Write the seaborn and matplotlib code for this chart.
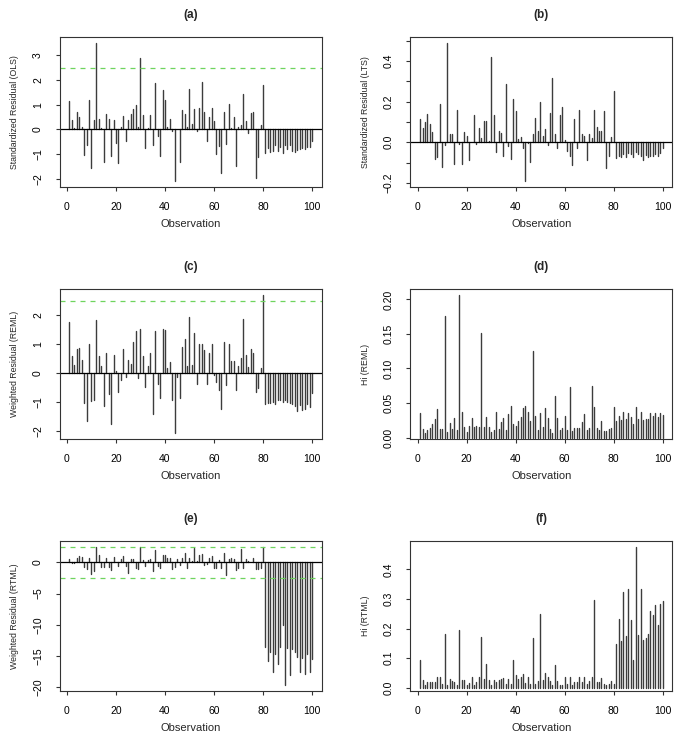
import matplotlib
matplotlib.use("Agg")
import pandas as pd
import matplotlib.pyplot as plt
import seaborn as sns

# Observation index 1..100
obs = list(range(1, 101))

# (a) standardized residuals, OLS
ols = [1.14, 0.38, 0.05, 0.71, 0.48, 0.08, -1.03, -0.63, 1.17, -1.57,
       0.38, 3.51, 0.40, 0.06, -1.33, 0.62, 0.43, -1.10, 0.38, -0.56,
       -1.37, 0.08, 0.54, -0.47, 0.38, 0.62, 0.81, 0.98, 0.08, 2.89,
       0.58, -0.77, 0.05, 0.56, -0.63, 1.88, -0.27, -1.10, 1.59, 1.18,
       0.08, 0.43, -0.05, -2.11, 0.03, -1.34, 0.78, 0.60, 0.10, 1.65,
       0.20, 0.82, -0.07, 0.86, 1.90, 0.69, -0.47, 0.51, 0.85, 0.34,
       -1.00, -0.67, -1.77, 0.69, -0.59, 1.02, 0.04, 0.48, -1.48, 0.08,
       0.16, 1.42, 0.35, -0.16, 0.65, 0.70, -1.96, -1.14, 0.17, 1.81,
       -0.97, -0.77, -0.93, -0.86, -0.63, -0.86, -0.70, -0.97, -0.63, -0.79,
       -0.63, -0.86, -0.93, -0.83, -0.79, -0.74, -0.79, -0.70, -0.70, -0.47]

# (b) standardized residuals, LTS
lts = [0.113, 0.072, 0.098, 0.141, 0.090, 0.049, -0.084, -0.075, 0.189, -0.120,
       -0.013, 0.490, 0.038, 0.039, -0.108, 0.157, -0.008, -0.108, 0.049, 0.031,
       -0.087, 0.003, 0.136, -0.010, 0.069, 0.020, 0.105, 0.102, 0.005, 0.418,
       0.133, -0.048, 0.054, 0.044, -0.070, 0.287, -0.021, -0.084, 0.213, 0.154,
       0.016, 0.025, -0.030, -0.193, -0.005, -0.098, 0.041, 0.117, 0.054, 0.197,
       0.031, 0.064, -0.013, 0.143, 0.315, 0.041, -0.030, 0.136, 0.172, 0.011,
       -0.041, -0.067, -0.110, 0.113, -0.030, 0.157, 0.041, 0.030, -0.087, 0.041,
       0.023, 0.157, 0.074, 0.057, 0.054, 0.154, -0.128, -0.067, 0.028, 0.250,
       -0.079, -0.070, -0.075, -0.057, -0.075, -0.054, -0.057, -0.075, -0.046, -0.057,
       -0.070, -0.087, -0.062, -0.075, -0.070, -0.067, -0.057, -0.067, -0.054, -0.030]

# (c) weighted residuals, REML
reml = [1.76, 0.59, 0.29, 0.83, 0.86, 0.48, -1.01, -1.63, 1.00, -0.95,
        -0.90, 1.84, 0.60, 0.25, -1.14, 0.72, -0.70, -1.76, 0.63, 0.09,
        -0.64, -0.23, 0.83, -0.13, 0.47, 0.32, 1.09, 1.46, -0.17, 1.53,
        0.59, -0.46, 0.26, 0.71, -1.41, 1.48, -0.37, -0.86, 1.53, 1.49,
        0.20, 0.38, -0.92, -2.07, -0.11, -0.86, 0.90, 1.17, 0.25, 1.95,
        0.29, 1.40, -0.37, 1.03, 1.03, 0.80, -0.37, 0.69, 1.00, -0.06,
        -0.31, -0.57, -1.23, 1.09, -0.40, 1.03, 0.43, 0.43, -0.57, 0.26,
        0.52, 1.86, 0.63, 0.21, 0.84, 0.69, -0.63, -0.49, 0.17, 2.72,
        -1.07, -1.03, -1.03, -0.98, -1.06, -0.90, -0.92, -0.98, -0.90, -0.98,
        -1.03, -1.06, -1.11, -1.30, -1.09, -1.26, -1.23, -1.06, -1.15, -0.69]

# (d) Hi, REML
hi_reml = [0.0356, 0.0125, 0.006, 0.011, 0.0135, 0.019, 0.027, 0.042, 0.012, 0.012,
           0.176, 0.008, 0.0216, 0.0125, 0.029, 0.0106, 0.207, 0.037, 0.016, 0.0087,
           0.017, 0.029, 0.016, 0.017, 0.016, 0.152, 0.016, 0.030, 0.016, 0.0077,
           0.0106, 0.0375, 0.012, 0.023, 0.028, 0.011, 0.034, 0.046, 0.019, 0.017,
           0.024, 0.030, 0.043, 0.046, 0.0375, 0.024, 0.126, 0.031, 0.011, 0.036,
           0.015, 0.043, 0.029, 0.012, 0.006, 0.060, 0.029, 0.011, 0.0135, 0.031,
           0.011, 0.0736, 0.0096, 0.0144, 0.0135, 0.0135, 0.022, 0.0346, 0.011, 0.0135,
           0.075, 0.0447, 0.0135, 0.011, 0.024, 0.0096, 0.0096, 0.012, 0.0135, 0.044,
           0.024, 0.031, 0.0255, 0.0365, 0.027, 0.035, 0.030, 0.019, 0.0447, 0.027,
           0.0375, 0.0255, 0.027, 0.027, 0.035, 0.031, 0.036, 0.030, 0.035, 0.0327]

# (e) weighted residuals, RTML
rtml = [0.53, -0.10, -0.10, 0.75, 1.07, 0.86, -0.75, -1.12, 0.64, -1.93,
        -1.40, 2.51, 1.18, -0.70, -0.70, 0.75, -0.70, -1.23, 0.86, 0.10,
        -0.53, 0.53, 0.96, -0.53, -1.66, 0.53, 0.53, -0.96, -1.12, 2.41,
        0.32, -0.53, 0.43, 0.48, -1.40, 1.98, -0.53, -0.96, 1.18, 1.18,
        0.75, 0.75, -1.07, -0.70, 0.48, -0.43, 0.75, 1.55, -0.96, 0.64,
        0.20, 2.25, 0.20, 1.18, 1.34, -0.43, -0.20, 0.75, 1.07, -0.96,
        -0.86, 0.32, -0.96, 1.55, -2.03, 0.48, 0.75, 0.53, -1.28, -0.96,
        2.09, -0.96, 0.53, 0.20, 0.05, 0.64, -1.12, -1.12, -0.86, 2.51,
        -13.5, -15.8, -14.3, -17.5, -14.6, -16.2, -13.5, -10.1, -19.7, -13.7,
        -18.1, -13.8, -14.4, -15.1, -17.5, -15.3, -17.8, -14.6, -17.5, -15.4]

# (f) Hi, RTML
hi_rtml = [0.095, 0.025, 0.011, 0.019, 0.021, 0.019, 0.021, 0.038, 0.038, 0.014,
           0.181, 0.008, 0.031, 0.023, 0.019, 0.008, 0.195, 0.028, 0.026, 0.011,
           0.016, 0.036, 0.010, 0.019, 0.037, 0.171, 0.031, 0.079, 0.025, 0.010,
           0.028, 0.019, 0.026, 0.031, 0.033, 0.012, 0.031, 0.012, 0.095, 0.043,
           0.031, 0.036, 0.045, 0.016, 0.035, 0.012, 0.169, 0.012, 0.024, 0.249,
           0.025, 0.050, 0.035, 0.023, 0.008, 0.076, 0.023, 0.010, 0.010, 0.036,
           0.012, 0.036, 0.010, 0.021, 0.021, 0.036, 0.019, 0.038, 0.012, 0.024,
           0.038, 0.295, 0.021, 0.019, 0.033, 0.012, 0.008, 0.012, 0.023, 0.012,
           0.149, 0.231, 0.158, 0.324, 0.175, 0.332, 0.228, 0.095, 0.477, 0.177,
           0.332, 0.160, 0.168, 0.181, 0.260, 0.245, 0.279, 0.211, 0.282, 0.293]

x_ticks = [0, 20, 40, 60, 80, 100]

panels = [
    ("(a)", "Standardized Residual (OLS)", ols, [-2, -1, 0, 1, 2, 3], None, [2.5]),
    ("(b)", "Standardized Residual (LTS)", lts,
     [-0.2, -0.1, 0.0, 0.1, 0.2, 0.3, 0.4, 0.5],
     ["-0.2", "", "0.0", "", "0.2", "", "0.4", ""], []),
    ("(c)", "Weighted Residual (REML)", reml, [-2, -1, 0, 1, 2], None, [2.5]),
    ("(d)", "Hi (REML)", hi_reml, [0.0, 0.05, 0.10, 0.15, 0.20],
     ["0.00", "0.05", "0.10", "0.15", "0.20"], None),
    ("(e)", "Weighted Residual (RTML)", rtml, [-20, -15, -10, -5, 0], None, [2.5, -2.5]),
    ("(f)", "Hi (RTML)", hi_rtml, [0.0, 0.1, 0.2, 0.3, 0.4],
     ["0.0", "0.1", "0.2", "0.3", "0.4"], None),
]

sns.set_theme(style="ticks")
plt.rcParams["font.family"] = ["Liberation Sans", "DejaVu Sans"]
plt.rcParams["axes.unicode_minus"] = True

W, H = 676, 733
fig = plt.figure(figsize=(W / 100, H / 100), dpi=100)

col_left = [59.7, 410.4]
row_top = [37, 289, 541]
ax_w, ax_h = 262, 150
frame_col = "#333333"
spike_col = "#3c3c3c"

for i, (title, ylab, vals, yt, ytl, hlines) in enumerate(panels):
    r, c = divmod(i, 2)
    ax = fig.add_axes([col_left[c] / W, 1 - (row_top[r] + ax_h) / H, ax_w / W, ax_h / H])

    # spikes (R type = "h"): one vertical segment per observation
    df = pd.DataFrame({"obs": obs * 2, "val": [0.0] * len(vals) + vals})
    sns.lineplot(data=df, x="obs", y="val", units="obs", estimator=None,
                 color=spike_col, linewidth=1.0, ax=ax, legend=False)

    if hlines is not None:
        ax.axhline(0, color="black", linewidth=0.9)
        for h in hlines:
            ax.axhline(h, color="#6FD45E", linewidth=0.9, linestyle=(0, (4, 4)))

    # R-style 4% axis expansion
    lo, hi = min(vals), max(vals)
    span = hi - lo
    ax.set_ylim(lo - 0.04 * span, hi + 0.04 * span)
    ax.set_xlim(1 - 0.04 * 99, 100 + 0.04 * 99)

    ax.set_xticks(x_ticks)
    ax.set_xticklabels([str(t) for t in x_ticks])
    ax.set_yticks(yt)
    if ytl is None:
        ytl = [str(t) for t in yt]
    ax.set_yticklabels([s.replace("-", "\u2212") for s in ytl])
    for lbl in ax.get_yticklabels():
        lbl.set_rotation(90)
        lbl.set_va("center")

    ax.tick_params(direction="out", length=3, width=0.8, color=frame_col,
                   labelsize=7.5, labelcolor="black")
    ax.tick_params(axis="x", pad=8)
    ax.tick_params(axis="y", pad=9)
    for sp in ax.spines.values():
        sp.set_visible(True)
        sp.set_color(frame_col)
        sp.set_linewidth(0.8)

    ax.set_xlabel("Observation", fontsize=8)
    ax.xaxis.set_label_coords(0.5, -37 / ax_h)
    ax.xaxis.label.set_va("center")
    ax.set_ylabel(ylab, fontsize=6.3)
    ax.yaxis.set_label_coords(-45 / ax_w, 0.5)
    ax.yaxis.label.set_va("center")
    ax.set_title(title, fontsize=8.5, fontweight="bold", pad=14)

fig.savefig("out.png", dpi=100)
